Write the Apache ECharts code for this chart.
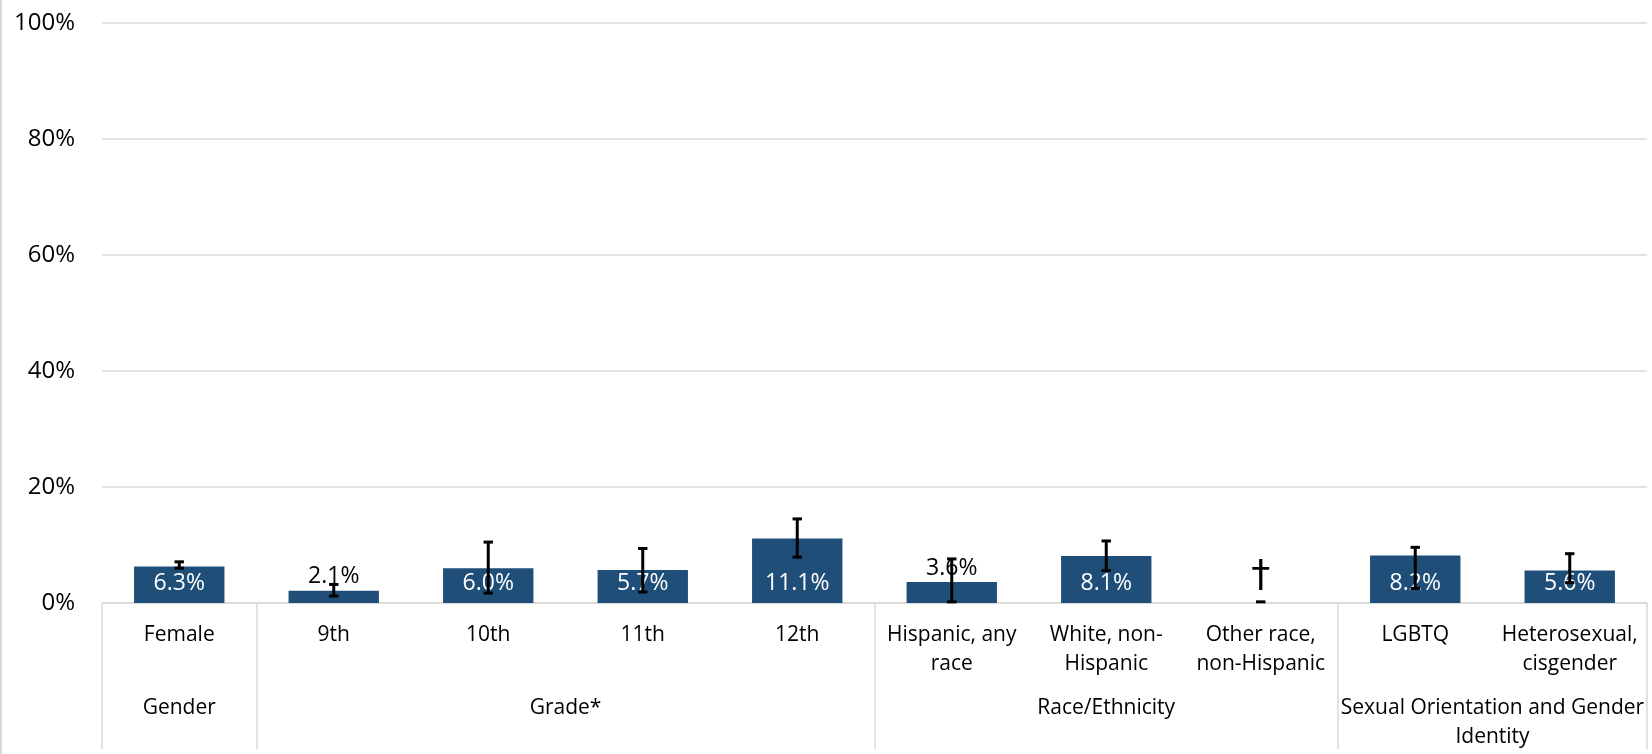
<!DOCTYPE html>
<html lang="en">
<head>
<meta charset="UTF-8">
<title>Chart</title>
<style>
    body{margin:0;background:#fff;}
    #myChart{position:absolute;left:0;top:0;width:1652px;height:754px;}
    .edge{position:absolute;left:0;top:0;width:2px;height:754px;background:#d9d9d9;}
</style>
</head>
<body>
<div id="myChart"></div>
<div class="edge"></div>
<script src="https://cdn.jsdelivr.net/npm/echarts@6/dist/echarts.min.js"></script>
<script>
    // data
    var categories = ['Female', '9th', '10th', '11th', '12th', 'Hispanic, any\nrace', 'White, non-\nHispanic', 'Other race,\nnon-Hispanic', 'LGBTQ', 'Heterosexual,\ncisgender'];
    var values = [6.3, 2.1, 6.0, 5.7, 11.1, 3.6, 8.1, null, 8.2, 5.6];
    var lower = [6.0, 1.2, 1.7, 1.9, 7.9, 0.2, 5.6, 0.2, 2.5, 3.5];
    var upper = [7.1, 3.2, 10.5, 9.4, 14.5, 7.6, 10.7, 0.2, 9.6, 8.5];
    var notes = ['', '', '', '', '', '', '', '\u2020', '', ''];
    var groupNames = ['Gender', 'Grade*', 'Race/Ethnicity', 'Sexual Orientation and Gender\nIdentity'];
    var groupSizes = [1, 4, 3, 2];

    var font = 'Open Sans';
    var grey = '#d9d9d9';

    // second axis: half-category steps, labels at group centres, ticks at group edges
    var groupAxis = [];
    for (var k = 0; k <= categories.length * 2; k++) groupAxis.push('');
    var sepIdx = [0];
    var start = 0;
    groupSizes.forEach(function (n, g) {
        groupAxis[start * 2 + n] = groupNames[g];
        start += n;
        sepIdx.push(start * 2);
    });

    var barData = values.map(function (v, i) {
        if (v == null) {
            return {
                value: 0,
                label: {
                    show: true, position: 'top', distance: 8,
                    formatter: notes[i], color: '#000',
                    fontSize: 38, lineHeight: 38, fontFamily: 'DejaVu Sans'
                }
            };
        }
        var inside = v >= 5;
        return {
            value: v,
            label: inside ? {position: 'insideBottom', distance: 8, color: '#fff'}
                          : {position: 'top', distance: 2, color: '#000'}
        };
    });

    var errData = values.map(function (v, i) { return [i, lower[i], upper[i]]; });

    var myChart = echarts.init(document.getElementById('myChart'));
    var option = {
        animation: false,
        grid: {left: 102, right: 5, top: 23, bottom: 151, containLabel: false},
        xAxis: [
            {
                type: 'category',
                data: categories,
                axisLine: {show: true, lineStyle: {color: grey, width: 1.5}},
                axisTick: {show: false},
                axisLabel: {
                    interval: 0, margin: 18, color: '#000',
                    fontFamily: font, fontSize: 21, lineHeight: 29
                }
            },
            {
                type: 'category',
                data: groupAxis,
                position: 'bottom',
                boundaryGap: false,
                axisLine: {show: false},
                axisTick: {
                    show: true, length: 146,
                    interval: function (idx) { return sepIdx.indexOf(idx) >= 0; },
                    lineStyle: {color: grey, width: 1.5}
                },
                axisLabel: {
                    interval: function (idx, val) { return val !== ''; },
                    margin: 91, color: '#000',
                    fontFamily: font, fontSize: 21, lineHeight: 29
                }
            }
        ],
        yAxis: {
            type: 'value',
            min: 0, max: 100, interval: 20,
            axisLine: {show: false},
            axisTick: {show: false},
            splitLine: {lineStyle: {color: grey, width: 1.5}},
            axisLabel: {
                formatter: '{value}%', margin: 27, color: '#000',
                fontFamily: font, fontSize: 24
            }
        },
        series: [
            {
                type: 'bar',
                xAxisIndex: 0,
                barWidth: '58.5%',
                itemStyle: {color: '#1f4e79'},
                label: {
                    show: true, fontFamily: font, fontSize: 23, lineHeight: 24,
                    formatter: function (p) { return p.value.toFixed(1) + '%'; }
                },
                data: barData,
                z: 2
            },
            {
                type: 'custom',
                xAxisIndex: 0,
                z: 5,
                renderItem: function (params, api) {
                    var top = api.coord([api.value(0), api.value(2)]);
                    var bot = api.coord([api.value(0), api.value(1)]);
                    var w = 4.7;
                    var style = {stroke: '#000', lineWidth: 3};
                    var kids = [
                        {type: 'line', shape: {x1: top[0] - w, y1: top[1], x2: top[0] + w, y2: top[1]}, style: style}
                    ];
                    if (bot[1] - top[1] > 1) {
                        kids.push({type: 'line', shape: {x1: top[0], y1: top[1], x2: bot[0], y2: bot[1]}, style: style});
                        kids.push({type: 'line', shape: {x1: bot[0] - w, y1: bot[1], x2: bot[0] + w, y2: bot[1]}, style: style});
                    }
                    return {type: 'group', children: kids};
                },
                data: errData
            }
        ]
    };
    myChart.setOption(option);
</script>
</body>
</html>
